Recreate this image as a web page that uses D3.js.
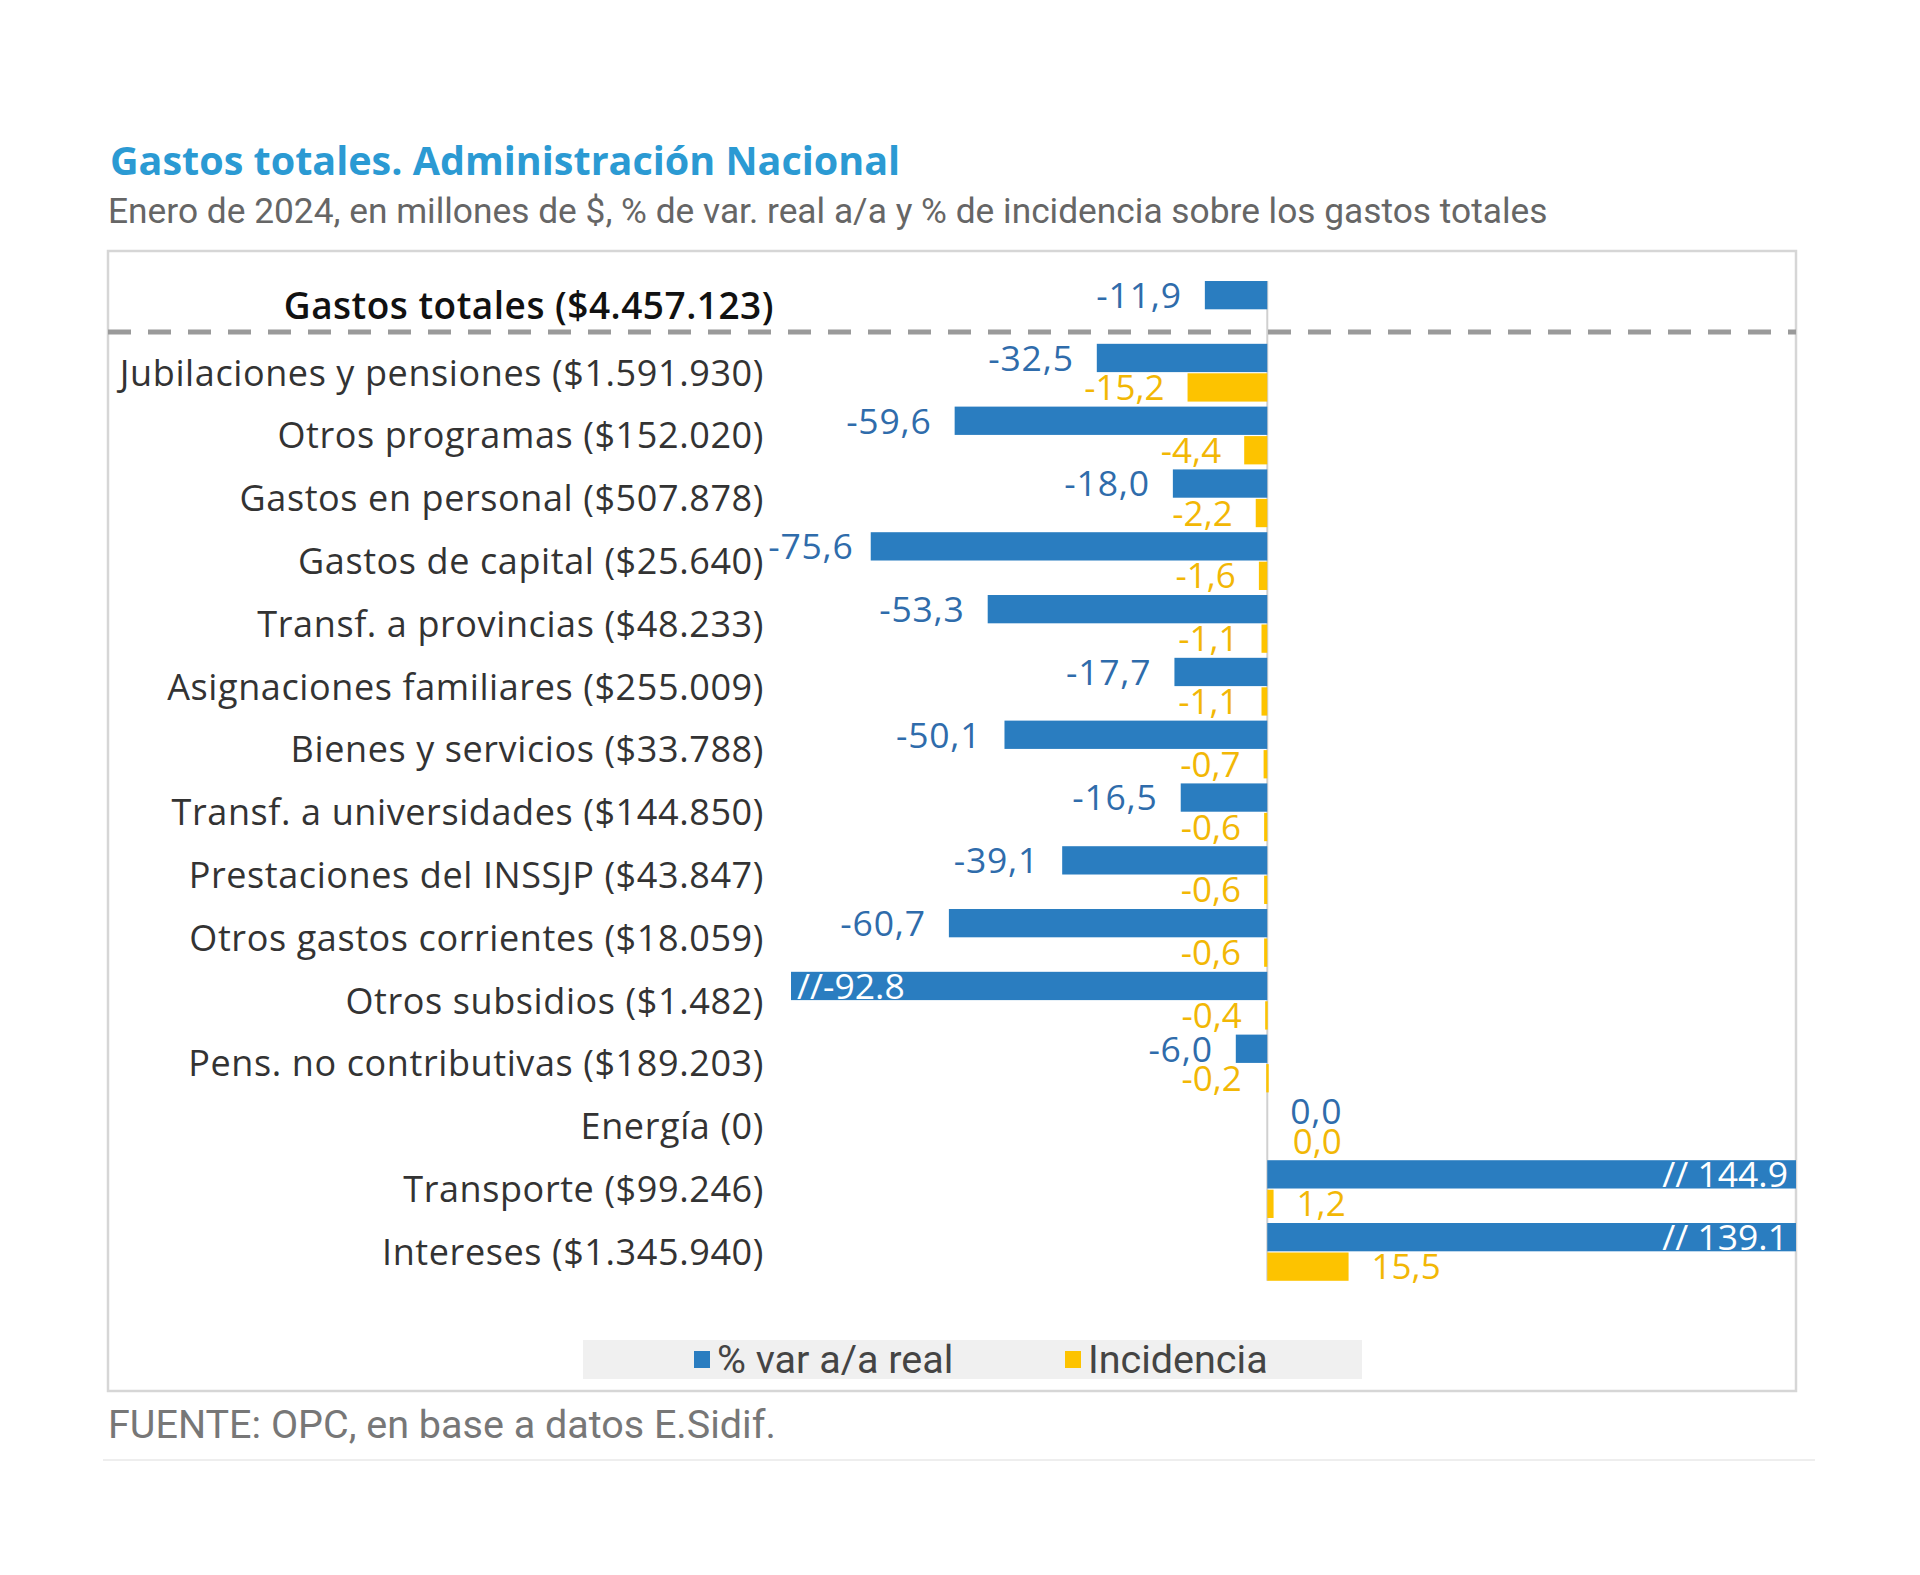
<!DOCTYPE html>
<html>
<head>
<meta charset="utf-8">
<script src="https://cdn.jsdelivr.net/npm/d3@7"></script>
<style>
  html, body { margin: 0; padding: 0; background: #ffffff; }
  svg { display: block; }
</style>
</head>
<body>
<script>
// ---------------- DATA ----------------
const categories = [
  "Gastos totales ($4.457.123)",
  "Jubilaciones y pensiones ($1.591.930)",
  "Otros programas ($152.020)",
  "Gastos en personal ($507.878)",
  "Gastos de capital ($25.640)",
  "Transf. a provincias ($48.233)",
  "Asignaciones familiares ($255.009)",
  "Bienes y servicios ($33.788)",
  "Transf. a universidades ($144.850)",
  "Prestaciones del INSSJP ($43.847)",
  "Otros gastos corrientes ($18.059)",
  "Otros subsidios ($1.482)",
  "Pens. no contributivas ($189.203)",
  "Energía (0)",
  "Transporte ($99.246)",
  "Intereses ($1.345.940)"
];
const varReal = [-11.9, -32.5, -59.6, -18.0, -75.6, -53.3, -17.7, -50.1, -16.5, -39.1, -60.7, -92.8, -6.0, 0.0, 144.9, 139.1];
const incidencia = [null, -15.2, -4.4, -2.2, -1.6, -1.1, -1.1, -0.7, -0.6, -0.6, -0.6, -0.4, -0.2, 0.0, 1.2, 15.5];
const seriesNames = ["% var a/a real", "Incidencia"];
const axisDomain = [-90.8, 100.8]; // visible range; longer bars are cut with "//"

const title = "Gastos totales. Administración Nacional";
const subtitle = "Enero de 2024, en millones de $, % de var. real a/a y % de incidencia sobre los gastos totales";
const source = "FUENTE: OPC, en base a datos E.Sidif.";

// ---------------- STYLE ----------------
const W = 1920, H = 1575;
const BLUE = "#2a7dc0", BLUE_TXT = "#2f6cab";
const YEL = "#fdc300", YEL_TXT = "#f2b705";
const LABEL_FONT = "'Open Sans', sans-serif";
const NARROW_FONT = "Roboto, sans-serif";
const locale = d3.formatLocale({decimal: ",", thousands: ".", grouping: [3], currency: ["$", ""], minus: "-"});
const fmt = locale.format(".1f");
const fmtDot = d3.formatLocale({decimal: ".", thousands: ",", grouping: [3], currency: ["$", ""], minus: "-"}).format(".1f");

const svg = d3.select("body").append("svg").attr("width", W).attr("height", H);

// Title + subtitle
svg.append("text").attr("x", 110).attr("y", 175)
  .attr("font-family", LABEL_FONT).attr("font-weight", 700).attr("font-size", 39.5)
  .attr("fill", "#2b9ad3").text(title);
svg.append("text").attr("x", 108).attr("y", 223)
  .attr("font-family", NARROW_FONT).attr("font-size", 35.3)
  .attr("fill", "#666").text(subtitle);

// Frame
const frame = {x0: 108, y0: 251, x1: 1796, y1: 1391};
svg.append("rect").attr("x", frame.x0).attr("y", frame.y0)
  .attr("width", frame.x1 - frame.x0).attr("height", frame.y1 - frame.y0)
  .attr("fill", "none").attr("stroke", "#d6d6d6").attr("stroke-width", 2.5);

// Scales
const x = d3.scaleLinear().domain(axisDomain).range([791, frame.x1]).clamp(true);
const y = d3.scaleBand().domain(categories).range([278.5, 278.5 + 16 * 62.8])
  .paddingInner(0.08).paddingOuter(0.04);
const ys = d3.scaleBand().domain(seriesNames).range([0, y.bandwidth()]).paddingInner(0.04);

// zero line
svg.append("line").attr("x1", x(0)).attr("x2", x(0))
  .attr("y1", y(categories[0])).attr("y2", y(categories[15]) + y.bandwidth())
  .attr("stroke", "#d0d0d0").attr("stroke-width", 2);

// dashed separator
svg.append("line").attr("x1", frame.x0).attr("x2", frame.x1)
  .attr("y1", 332).attr("y2", 332)
  .attr("stroke", "#9a9a9a").attr("stroke-width", 5).attr("stroke-dasharray", "23 17");

const rows = categories.map((c, i) => ({c, i, v: varReal[i], inc: incidencia[i]}));

// Blue bars
svg.append("g").selectAll("rect").data(rows).join("rect")
  .attr("x", d => Math.min(x(0), x(d.v)))
  .attr("y", d => y(d.c) + ys(seriesNames[0]))
  .attr("width", d => Math.abs(x(d.v) - x(0)))
  .attr("height", ys.bandwidth())
  .attr("fill", BLUE);

// Yellow bars
svg.append("g").selectAll("rect").data(rows.filter(d => d.inc !== null)).join("rect")
  .attr("x", d => Math.min(x(0), x(d.inc)))
  .attr("y", d => y(d.c) + ys(seriesNames[1]))
  .attr("width", d => Math.max(Math.abs(x(d.inc) - x(0)), d.inc !== 0 ? 2.5 : 0))
  .attr("height", ys.bandwidth())
  .attr("fill", YEL);

// Value labels (blue)
const isCut = v => v < axisDomain[0] || v > axisDomain[1];
svg.append("g").selectAll("text").data(rows).join("text")
  .attr("x", d => {
    if (isCut(d.v)) return d.v < 0 ? x(d.v) + 6 : x(d.v) - 8;
    return d.v < 0 ? x(d.v) - (d.v < -70 ? 17 : 23) : x(d.v) + 23;
  })
  .attr("y", d => y(d.c) + ys(seriesNames[0]) + ys.bandwidth() / 2)
  .attr("dy", "0.36em")
  .attr("text-anchor", d => isCut(d.v) ? (d.v < 0 ? "start" : "end") : (d.v < 0 ? "end" : "start"))
  .attr("font-family", LABEL_FONT)
  .attr("font-size", 35.5)
  .attr("letter-spacing", d => isCut(d.v) ? 0 : 0.8)
  .attr("font-weight", d => isCut(d.v) ? 500 : 400)
  .attr("fill", d => isCut(d.v) ? "#ffffff" : BLUE_TXT)
  .text(d => isCut(d.v) ? (d.v < 0 ? "//" + fmtDot(d.v) : "// " + fmtDot(d.v)) : fmt(d.v));

// Value labels (yellow)
svg.append("g").selectAll("text").data(rows.filter(d => d.inc !== null)).join("text")
  .attr("x", d => d.inc < 0 ? Math.min(x(d.inc), x(0) - 2.5) - 23 : Math.max(x(d.inc), x(0) + 2.5) + 23)
  .attr("y", d => y(d.c) + ys(seriesNames[1]) + ys.bandwidth() / 2)
  .attr("dy", "0.36em")
  .attr("text-anchor", d => d.inc < 0 ? "end" : "start")
  .attr("font-family", LABEL_FONT)
  .attr("font-size", 35)
  .attr("fill", YEL_TXT)
  .text(d => fmt(d.inc));

// Category labels
svg.append("g").selectAll("text").data(rows).join("text")
  .attr("x", d => d.i === 0 ? 774 : 764)
  .attr("y", d => y(d.c) + y.bandwidth() / 2 + (d.i === 0 ? -4 : 0))
  .attr("dy", "0.36em")
  .attr("text-anchor", "end")
  .attr("font-family", LABEL_FONT)
  .attr("font-size", d => d.i === 0 ? 37 : 36)
  .attr("letter-spacing", d => d.i === 0 ? 0.5 : 0.6)
  .attr("font-weight", d => d.i === 0 ? 600 : 400)
  .attr("fill", d => d.i === 0 ? "#111" : "#333")
  .text(d => d.c);

// Legend
const lg = svg.append("g");
lg.append("rect").attr("x", 583).attr("y", 1340).attr("width", 779).attr("height", 39).attr("fill", "#f0f0f0");
const legendItems = [
  {name: seriesNames[0], color: BLUE, sx: 694},
  {name: seriesNames[1], color: YEL, sx: 1065}
];
legendItems.forEach(it => {
  lg.append("rect").attr("x", it.sx).attr("y", 1351).attr("width", 16).attr("height", 17).attr("fill", it.color);
  lg.append("text").attr("x", it.sx + 23).attr("y", 1373)
    .attr("font-family", NARROW_FONT).attr("font-size", 39.5).attr("fill", "#444").text(it.name);
});

// Source
svg.append("text").attr("x", 108).attr("y", 1438)
  .attr("font-family", NARROW_FONT).attr("font-size", 39.5).attr("fill", "#777").text(source);
svg.append("line").attr("x1", 103).attr("x2", 1815).attr("y1", 1460).attr("y2", 1460)
  .attr("stroke", "#eeeeee").attr("stroke-width", 2);
</script>
</body>
</html>
